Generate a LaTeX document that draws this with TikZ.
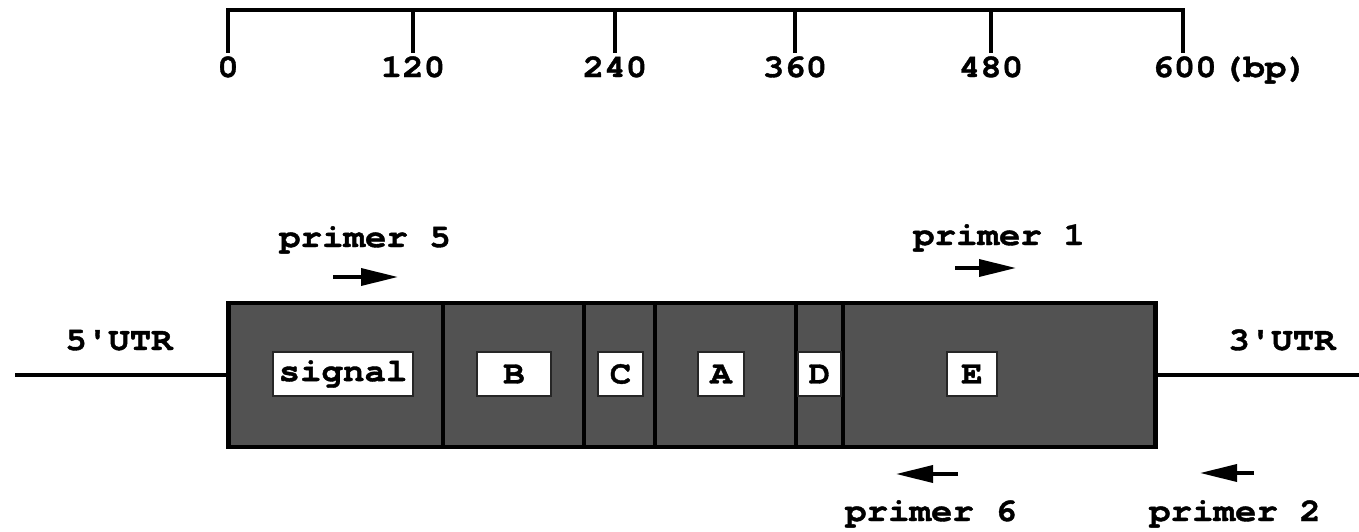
\documentclass[tikz,border=0pt]{standalone}
\usepackage{fontspec}
\setmonofont[FakeStretch=1.1, BoldFeatures={FakeBold=1.2}]{TeX Gyre Cursor}
\usetikzlibrary{arrows.meta}

\tikzset{
  lbl/.style={font=\ttfamily\bfseries\fontsize{18.5}{22}\selectfont, inner sep=0pt},
  bar/.style={line width=2.6pt},
  utr/.style={line width=1.8pt},
  divider/.style={line width=2.2pt},
  dombox/.style={lbl, fill=white, draw=black!85, line width=0.9pt,
                 minimum height=0.88cm},
  primer/.style={line width=2pt, -{Triangle[length=0.74cm, width=0.34cm]}},
}

\begin{document}
\begin{tikzpicture}[x=0.02cm, y=-0.02cm]
  \useasboundingbox (0,0) rectangle (1359,531);

  % scale bar (bp)
  \draw[bar] (228,10) -- (1183,10);
  \foreach \x/\bp in {228/0, 413/120, 615/240, 795/360, 991/480} {
     \draw[bar] (\x,8) -- (\x,53);
     \node[lbl, anchor=base] (bp\bp) at (\x,77) {\bp};
  }
  \draw[bar] (1183,8) -- (1183,53);
  \node[lbl, anchor=base west] (bp600) at (1152,77) {600\,(bp)};

  % coding region with its domains
  \node[draw, line width=2.8pt, fill=black!68, minimum width=18.56cm,
        minimum height=2.88cm, inner sep=0pt] (cds) at (692,375) {};
  \foreach \x in {443,584,655,796,843}
     \draw[divider] (\x,303) -- (\x,447);

  \node[dombox, minimum width=2.8cm]  (sig)  at (343,374) {signal};
  \node[dombox, minimum width=1.48cm] (domB) at (514,374) {B};
  \node[dombox, minimum width=0.9cm]  (domC) at (620.5,374) {C};
  \node[dombox, minimum width=0.92cm] (domA) at (721,374) {A};
  \node[dombox, minimum width=0.86cm] (domD) at (819.5,374) {D};
  \node[dombox, minimum width=1.0cm]  (domE) at (972,374) {E};

  % untranslated regions
  \coordinate (end5) at (15,375);
  \coordinate (end3) at (1359,375);
  \draw[utr] (end5) -- (cds.west);
  \draw[utr] (cds.east) -- (end3);
  \node[lbl, anchor=base] (utr5) at (119,350) {5'UTR};
  \node[lbl, anchor=base] (utr3) at (1282,350) {3'UTR};

  % primers
  \node[lbl, anchor=base] (pr5) at (365,247) {primer 5};
  \node[lbl, anchor=base] (pr1) at (999,245) {primer 1};
  \node[lbl, anchor=base] (pr6) at (931,521) {primer 6};
  \node[lbl, anchor=base] (pr2) at (1235,521) {primer 2};
  \coordinate (p5a) at (333,277);  \coordinate (p5b) at (398,277);
  \coordinate (p1a) at (955,268);  \coordinate (p1b) at (1016,268);
  \coordinate (p6a) at (958,474);  \coordinate (p6b) at (896,474);
  \coordinate (p2a) at (1254,473); \coordinate (p2b) at (1200,473);
  \draw[primer] (p5a) -- (p5b);
  \draw[primer] (p1a) -- (p1b);
  \draw[primer] (p6a) -- (p6b);
  \draw[primer] (p2a) -- (p2b);
\end{tikzpicture}
\end{document}
